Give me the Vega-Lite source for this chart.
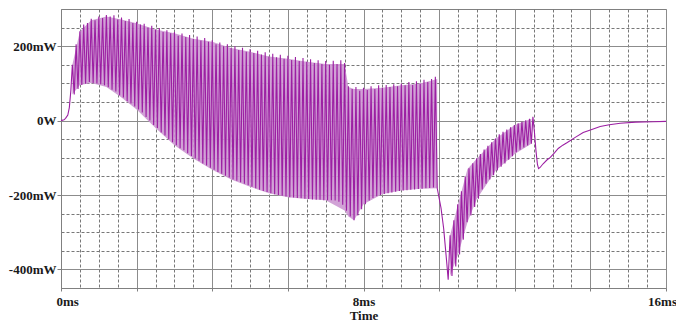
{
  "$schema": "https://vega.github.io/schema/vega-lite/v6.json",
  "width": 605,
  "height": 279,
  "autosize": {"type": "none"},
  "padding": {"left": 61, "top": 9, "right": 10, "bottom": 33},
  "background": "white",
  "config": {
    "view": {"stroke": "#808080", "strokeWidth": 1},
    "axis": {
      "labelFont": "Liberation Serif",
      "labelFontWeight": "bold",
      "labelFontSize": 13,
      "labelColor": "#1a1a1a",
      "titleFont": "Liberation Serif",
      "titleFontWeight": "bold",
      "titleFontSize": 13,
      "titleColor": "#1a1a1a",
      "domainColor": "#808080",
      "tickColor": "#808080",
      "labelOverlap": false,
      "labelBound": false,
      "labelFlush": false
    }
  },
  "datasets": {
    "osc": [
      {"t":0,"p":0},{"t":0.08,"p":2},{"t":0.12,"p":6},{"t":0.18,"p":15},{"t":0.22,"p":35},{"t":0.26,"p":80},
      {"t":0.3,"p":150},{"t":0.35,"p":70},{"t":0.4,"p":205},{"t":0.45,"p":85},{"t":0.5,"p":240},{"t":0.55,"p":96},
      {"t":0.6,"p":258},{"t":0.65,"p":99},{"t":0.7,"p":262},{"t":0.75,"p":104},{"t":0.8,"p":274},{"t":0.85,"p":101},
      {"t":0.9,"p":270},{"t":0.95,"p":100},{"t":1.0,"p":280},{"t":1.05,"p":98},{"t":1.1,"p":276},{"t":1.15,"p":95},
      {"t":1.2,"p":284},{"t":1.25,"p":90},{"t":1.3,"p":280},{"t":1.35,"p":83},{"t":1.4,"p":283},{"t":1.45,"p":78},
      {"t":1.5,"p":272},{"t":1.55,"p":68},{"t":1.6,"p":277},{"t":1.65,"p":62},{"t":1.7,"p":268},{"t":1.75,"p":52},
      {"t":1.8,"p":273},{"t":1.85,"p":46},{"t":1.9,"p":262},{"t":1.95,"p":38},{"t":2.0,"p":266},{"t":2.05,"p":30},
      {"t":2.1,"p":258},{"t":2.15,"p":22},{"t":2.2,"p":260},{"t":2.25,"p":10},{"t":2.3,"p":250},{"t":2.35,"p":0},
      {"t":2.4,"p":255},{"t":2.45,"p":-12},{"t":2.5,"p":245},{"t":2.55,"p":-20},{"t":2.6,"p":249},{"t":2.65,"p":-32},
      {"t":2.7,"p":238},{"t":2.75,"p":-40},{"t":2.8,"p":243},{"t":2.85,"p":-50},{"t":2.9,"p":235},{"t":2.95,"p":-58},
      {"t":3.0,"p":238},{"t":3.05,"p":-66},{"t":3.1,"p":228},{"t":3.15,"p":-74},{"t":3.2,"p":234},{"t":3.25,"p":-80},
      {"t":3.3,"p":225},{"t":3.35,"p":-88},{"t":3.4,"p":230},{"t":3.45,"p":-95},{"t":3.5,"p":220},{"t":3.55,"p":-102},
      {"t":3.6,"p":226},{"t":3.65,"p":-108},{"t":3.7,"p":215},{"t":3.75,"p":-115},{"t":3.8,"p":222},{"t":3.85,"p":-121},
      {"t":3.9,"p":212},{"t":3.95,"p":-127},{"t":4.0,"p":216},{"t":4.05,"p":-132},{"t":4.1,"p":205},{"t":4.15,"p":-138},
      {"t":4.2,"p":210},{"t":4.25,"p":-143},{"t":4.3,"p":200},{"t":4.35,"p":-148},{"t":4.4,"p":205},{"t":4.45,"p":-153},
      {"t":4.5,"p":195},{"t":4.55,"p":-158},{"t":4.6,"p":200},{"t":4.65,"p":-162},{"t":4.7,"p":190},{"t":4.75,"p":-166},
      {"t":4.8,"p":196},{"t":4.85,"p":-170},{"t":4.9,"p":185},{"t":4.95,"p":-174},{"t":5.0,"p":192},{"t":5.05,"p":-178},
      {"t":5.1,"p":182},{"t":5.15,"p":-182},{"t":5.2,"p":188},{"t":5.25,"p":-186},{"t":5.3,"p":178},{"t":5.35,"p":-189},
      {"t":5.4,"p":184},{"t":5.45,"p":-192},{"t":5.5,"p":172},{"t":5.55,"p":-195},{"t":5.6,"p":180},{"t":5.65,"p":-198},
      {"t":5.7,"p":170},{"t":5.75,"p":-200},{"t":5.8,"p":177},{"t":5.85,"p":-202},{"t":5.9,"p":166},{"t":5.95,"p":-204},
      {"t":6.0,"p":174},{"t":6.05,"p":-206},{"t":6.1,"p":163},{"t":6.15,"p":-207},{"t":6.2,"p":171},{"t":6.25,"p":-208},
      {"t":6.3,"p":160},{"t":6.35,"p":-209},{"t":6.4,"p":168},{"t":6.45,"p":-210},{"t":6.5,"p":158},{"t":6.55,"p":-211},
      {"t":6.6,"p":165},{"t":6.65,"p":-212},{"t":6.7,"p":155},{"t":6.75,"p":-213},{"t":6.8,"p":162},{"t":6.85,"p":-213},
      {"t":6.9,"p":152},{"t":6.95,"p":-214},{"t":7.0,"p":160},{"t":7.05,"p":-214},{"t":7.1,"p":150},{"t":7.15,"p":-214},
      {"t":7.2,"p":161},{"t":7.25,"p":-215},{"t":7.3,"p":152},{"t":7.35,"p":-218},{"t":7.4,"p":162},{"t":7.45,"p":-226},
      {"t":7.5,"p":155},{"t":7.55,"p":-242},{"t":7.6,"p":92},{"t":7.65,"p":-258},{"t":7.7,"p":85},{"t":7.75,"p":-268},
      {"t":7.8,"p":90},{"t":7.85,"p":-255},{"t":7.9,"p":80},{"t":7.95,"p":-238},{"t":8.0,"p":88},{"t":8.05,"p":-225},
      {"t":8.1,"p":82},{"t":8.15,"p":-215},{"t":8.2,"p":92},{"t":8.25,"p":-208},{"t":8.3,"p":85},{"t":8.35,"p":-203},
      {"t":8.4,"p":95},{"t":8.45,"p":-200},{"t":8.5,"p":88},{"t":8.55,"p":-197},{"t":8.6,"p":96},{"t":8.65,"p":-195},
      {"t":8.7,"p":90},{"t":8.75,"p":-193},{"t":8.8,"p":98},{"t":8.85,"p":-191},{"t":8.9,"p":92},{"t":8.95,"p":-189},
      {"t":9.0,"p":100},{"t":9.05,"p":-188},{"t":9.1,"p":95},{"t":9.15,"p":-187},{"t":9.2,"p":104},{"t":9.25,"p":-186},
      {"t":9.3,"p":96},{"t":9.35,"p":-185},{"t":9.4,"p":106},{"t":9.45,"p":-184},{"t":9.5,"p":100},{"t":9.55,"p":-183},
      {"t":9.6,"p":110},{"t":9.65,"p":-182},{"t":9.7,"p":104},{"t":9.75,"p":-181},{"t":9.8,"p":112},{"t":9.85,"p":-180},
      {"t":9.9,"p":118},{"t":9.95,"p":-182},
      {"t":10.05,"p":-235},{"t":10.12,"p":-290},{"t":10.2,"p":-380},{"t":10.24,"p":-428},
      {"t":10.29,"p":-308},{"t":10.34,"p":-418},{"t":10.39,"p":-268},{"t":10.44,"p":-392},{"t":10.49,"p":-225},{"t":10.54,"p":-360},
      {"t":10.59,"p":-190},{"t":10.64,"p":-320},{"t":10.69,"p":-150},{"t":10.74,"p":-273},{"t":10.79,"p":-128},{"t":10.84,"p":-255},
      {"t":10.89,"p":-115},{"t":10.94,"p":-232},{"t":10.99,"p":-102},{"t":11.04,"p":-210},{"t":11.09,"p":-90},{"t":11.14,"p":-185},
      {"t":11.19,"p":-78},{"t":11.24,"p":-170},{"t":11.29,"p":-68},{"t":11.34,"p":-158},{"t":11.39,"p":-58},{"t":11.44,"p":-147},
      {"t":11.49,"p":-48},{"t":11.54,"p":-134},{"t":11.59,"p":-37},{"t":11.64,"p":-124},{"t":11.69,"p":-30},{"t":11.74,"p":-115},
      {"t":11.79,"p":-24},{"t":11.84,"p":-105},{"t":11.89,"p":-18},{"t":11.94,"p":-96},{"t":11.99,"p":-12},{"t":12.04,"p":-85},
      {"t":12.09,"p":-7},{"t":12.14,"p":-78},{"t":12.19,"p":-3},{"t":12.24,"p":-72},{"t":12.29,"p":1},{"t":12.34,"p":-67},
      {"t":12.39,"p":5},{"t":12.44,"p":-62},{"t":12.48,"p":10},
      {"t":12.52,"p":-30},{"t":12.56,"p":-80},{"t":12.6,"p":-118},{"t":12.63,"p":-129},{"t":12.67,"p":-126},{"t":12.75,"p":-116},
      {"t":12.85,"p":-106},{"t":12.94,"p":-99},{"t":13.05,"p":-87},{"t":13.15,"p":-75},{"t":13.27,"p":-66},{"t":13.39,"p":-59},
      {"t":13.6,"p":-45},{"t":13.81,"p":-32},{"t":14.0,"p":-25},{"t":14.26,"p":-16},{"t":14.5,"p":-11},
      {"t":14.79,"p":-7},{"t":15.2,"p":-4},{"t":15.66,"p":-3},{"t":16.0,"p":-2}
    ],
    "env": [
      {"seg":"a","t":0.3,"hi":150,"lo":70},{"seg":"a","t":0.5,"hi":240,"lo":96},{"seg":"a","t":0.8,"hi":270,"lo":101},
      {"seg":"a","t":1.2,"hi":280,"lo":90},{"seg":"a","t":1.6,"hi":272,"lo":62},{"seg":"a","t":2.0,"hi":262,"lo":30},
      {"seg":"a","t":2.5,"hi":245,"lo":-20},{"seg":"a","t":3.0,"hi":235,"lo":-66},{"seg":"a","t":3.5,"hi":220,"lo":-102},
      {"seg":"a","t":4.0,"hi":212,"lo":-132},{"seg":"a","t":4.5,"hi":195,"lo":-158},{"seg":"a","t":5.0,"hi":185,"lo":-178},
      {"seg":"a","t":5.5,"hi":172,"lo":-195},{"seg":"a","t":6.0,"hi":166,"lo":-206},{"seg":"a","t":6.5,"hi":158,"lo":-211},
      {"seg":"a","t":7.0,"hi":152,"lo":-214},{"seg":"a","t":7.5,"hi":152,"lo":-242},{"seg":"a","t":7.6,"hi":90,"lo":-258},
      {"seg":"a","t":7.75,"hi":85,"lo":-268},{"seg":"a","t":8.0,"hi":85,"lo":-225},{"seg":"a","t":8.5,"hi":88,"lo":-197},
      {"seg":"a","t":9.0,"hi":95,"lo":-188},{"seg":"a","t":9.5,"hi":100,"lo":-183},{"seg":"a","t":9.95,"hi":112,"lo":-182},
      {"seg":"b","t":10.29,"hi":-308,"lo":-418},{"seg":"b","t":10.5,"hi":-225,"lo":-360},{"seg":"b","t":10.75,"hi":-130,"lo":-273},
      {"seg":"b","t":11.0,"hi":-102,"lo":-210},{"seg":"b","t":11.5,"hi":-48,"lo":-134},{"seg":"b","t":12.0,"hi":-12,"lo":-90},
      {"seg":"b","t":12.44,"hi":5,"lo":-62}
    ]
  },
  "layer": [
    {
      "data": {"name": "env"},
      "mark": {"type": "area", "color": "#cc98d2", "opacity": 0.9},
      "encoding": {
        "x": {
          "field": "t", "type": "quantitative",
          "scale": {"domain": [0, 16], "nice": false, "zero": false},
          "axis": {
            "title": "Time",
            "titlePadding": 1,
            "values": [0,0.5,1,1.5,2,2.5,3,3.5,4,4.5,5,5.5,6,6.5,7,7.5,8,8.5,9,9.5,10,10.5,11,11.5,12,12.5,13,13.5,14,14.5,15,15.5,16],
            "grid": true,
            "gridColor": {"condition": {"test": "datum.value % 2 === 0", "value": "#8c8c8c"}, "value": "#787878"},
            "gridDash": {"condition": {"test": "datum.value % 2 === 0", "value": []}, "value": [3, 2]},
            "tickOpacity": {"condition": {"test": "datum.value % 2 === 0", "value": 1}, "value": 0},
            "tickSize": 3,
            "labelPadding": 4,
            "labelExpr": "datum.value % 8 === 0 ? datum.value + 'ms' : ''",
            "labelAlign": {"condition": {"test": "datum.value === 0", "value": "left"}, "value": "center"},
            "labelOffset": {"condition": [{"test": "datum.value === 0", "value": -5}, {"test": "datum.value === 16", "value": -4}], "value": 0}
          }
        },
        "y": {
          "field": "hi", "type": "quantitative",
          "scale": {"domain": [-450, 300], "nice": false, "zero": false},
          "axis": {
            "title": null,
            "values": [-400,-350,-300,-250,-200,-150,-100,-50,0,50,100,150,200,250],
            "grid": true,
            "gridColor": {"condition": {"test": "datum.value % 200 === 0", "value": "#8c8c8c"}, "value": "#787878"},
            "gridDash": {"condition": {"test": "datum.value % 200 === 0", "value": []}, "value": [3, 2]},
            "tickOpacity": {"condition": {"test": "datum.value % 200 === 0", "value": 1}, "value": 0},
            "tickSize": 4,
            "labelPadding": 1,
            "labelExpr": "datum.value === 0 ? '0W' : (datum.value % 200 === 0 ? datum.value + 'mW' : '')"
          }
        },
        "y2": {"field": "lo"},
        "detail": {"field": "seg"}
      }
    },
    {
      "data": {"name": "osc"},
      "mark": {"type": "line", "color": "#9c1fa3", "strokeWidth": 1.1},
      "encoding": {
        "x": {
          "field": "t", "type": "quantitative",
          "axis": {
            "title": "Time",
            "titlePadding": 1,
            "values": [0,0.5,1,1.5,2,2.5,3,3.5,4,4.5,5,5.5,6,6.5,7,7.5,8,8.5,9,9.5,10,10.5,11,11.5,12,12.5,13,13.5,14,14.5,15,15.5,16],
            "grid": true,
            "gridColor": {"condition": {"test": "datum.value % 2 === 0", "value": "#8c8c8c"}, "value": "#787878"},
            "gridDash": {"condition": {"test": "datum.value % 2 === 0", "value": []}, "value": [3, 2]},
            "tickOpacity": {"condition": {"test": "datum.value % 2 === 0", "value": 1}, "value": 0},
            "tickSize": 3,
            "labelPadding": 4,
            "labelExpr": "datum.value % 8 === 0 ? datum.value + 'ms' : ''",
            "labelAlign": {"condition": {"test": "datum.value === 0", "value": "left"}, "value": "center"},
            "labelOffset": {"condition": [{"test": "datum.value === 0", "value": -5}, {"test": "datum.value === 16", "value": -4}], "value": 0}
          }
        },
        "y": {
          "field": "p", "type": "quantitative",
          "axis": {
            "title": null,
            "values": [-400,-350,-300,-250,-200,-150,-100,-50,0,50,100,150,200,250],
            "grid": true,
            "gridColor": {"condition": {"test": "datum.value % 200 === 0", "value": "#8c8c8c"}, "value": "#787878"},
            "gridDash": {"condition": {"test": "datum.value % 200 === 0", "value": []}, "value": [3, 2]},
            "tickOpacity": {"condition": {"test": "datum.value % 200 === 0", "value": 1}, "value": 0},
            "tickSize": 4,
            "labelPadding": 1,
            "labelExpr": "datum.value === 0 ? '0W' : (datum.value % 200 === 0 ? datum.value + 'mW' : '')"
          }
        }
      }
    }
  ]
}
